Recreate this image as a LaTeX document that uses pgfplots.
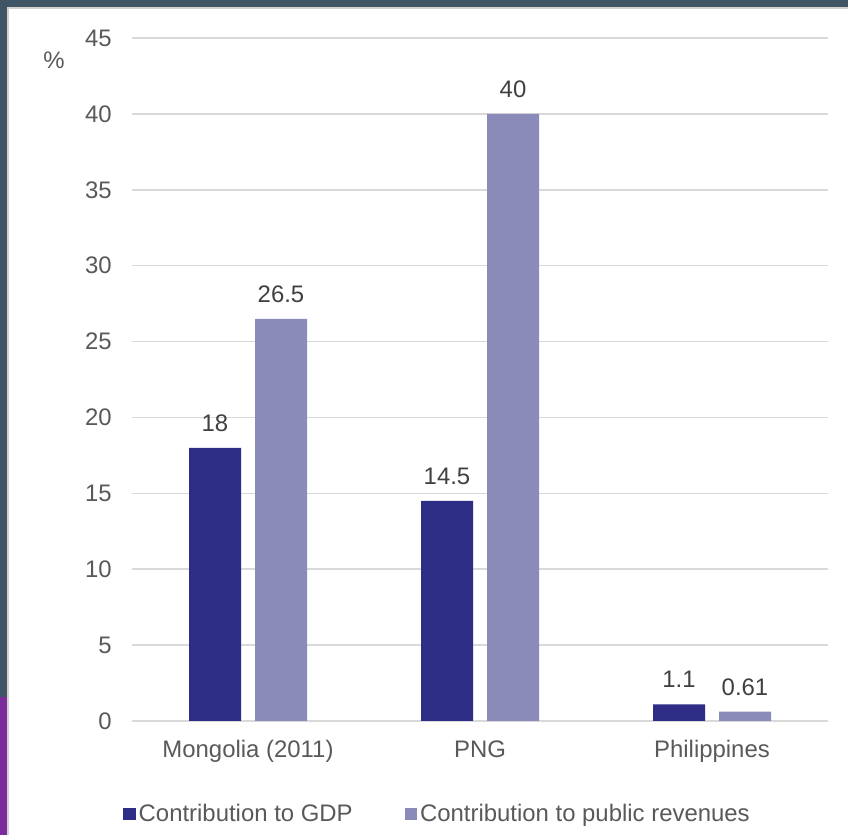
\documentclass[border=0pt]{standalone}
\usepackage{fontspec}
\setmainfont{Liberation Sans}
\usepackage{pgfplots}
\pgfplotsset{compat=1.18}
\definecolor{gdp}{HTML}{2D2D86}
\definecolor{rev}{HTML}{8A8BB9}
\definecolor{gridc}{HTML}{D9D9D9}
\definecolor{lbl}{HTML}{595959}
\definecolor{val}{HTML}{404040}
\definecolor{framec}{HTML}{3F5566}
\definecolor{logoc}{HTML}{7B2D9B}
\begin{document}
\begin{tikzpicture}
\fill[white] (0,0) rectangle (424bp,417.5bp);
\path[use as bounding box] (0,0) rectangle (424bp,417.5bp);
\fill[framec] (0,414bp) rectangle (424bp,417.5bp);
\fill[gray!35] (3.5bp,413bp) rectangle (424bp,414bp);
\fill[framec] (0,69bp) rectangle (3.5bp,414bp);
\fill[logoc] (0,0) rectangle (3.5bp,69bp);
\fill[gray!35] (3.5bp,0) rectangle (4.5bp,413bp);
\begin{axis}[
  at={(66bp,57bp)}, anchor=south west, scale only axis,
  width=348bp, height=341.5bp,
  ybar=7bp, bar width=26bp,
  xmin=-0.5, xmax=2.5, ymin=0, ymax=45,
  xtick={0,1,2}, xticklabels={Mongolia (2011),PNG,Philippines},
  ytick={0,5,...,45},
  ymajorgrids, grid style={draw=gridc, line width=0.75bp},
  axis x line*=bottom, axis y line*=left,
  x axis line style={draw=gridc, line width=0.75bp, -},
  y axis line style={draw=none},
  major tick length=0pt, tick style={draw=none},
  /pgf/number format/assume math mode=true,
  ticklabel style={font=\fontsize{12}{14}\selectfont, text=lbl},
  yticklabel style={inner sep=0pt, xshift=-10bp},
  xticklabel style={inner sep=0pt, yshift=-9.5bp},
  nodes near coords,
  every node near coord/.append style={font=\fontsize{12}{14}\selectfont, text=val, inner sep=0pt, yshift=8bp},
  legend style={at={(0.4397,-0.136)}, anchor=center, draw=none, fill=none,
    legend columns=2, font=\fontsize{12}{14}\selectfont, text=lbl,
    /tikz/every even column/.append style={column sep=24.5bp},
    nodes={inner sep=1.5bp}},
  legend image code/.code={\fill[#1] (0bp,-3.1bp) rectangle (6.2bp,3.1bp);},
]
\addplot[fill=gdp, draw=none] coordinates {(0,18) (1,14.5) (2,1.1)};
\addplot[fill=rev, draw=none] coordinates {(0,26.5) (1,40) (2,0.61)};
\legend{Contribution to GDP, Contribution to public revenues}
\end{axis}
\node[text=lbl, font=\fontsize{12}{14}\selectfont] at (27bp,387.5bp) {\%};
\end{tikzpicture}
\end{document}
